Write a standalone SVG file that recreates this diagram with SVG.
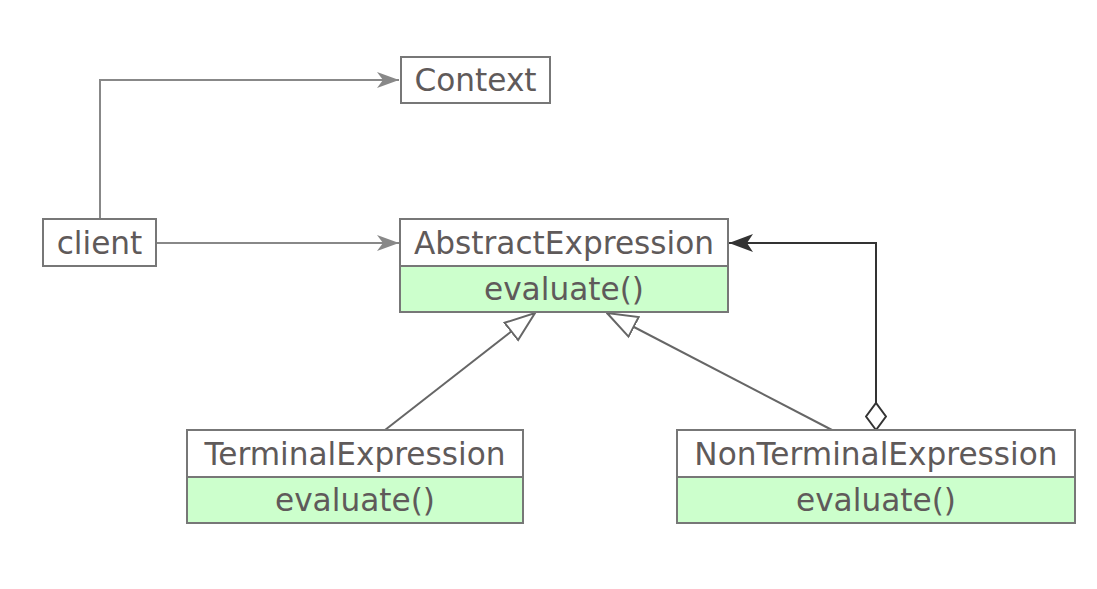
<svg xmlns="http://www.w3.org/2000/svg" width="1097" height="589" viewBox="0 0 1097 589">
<defs>
<style>
.box{fill:#ffffff;stroke:#777777;stroke-width:2}
.ops{fill:#ccffcc;stroke:#777777;stroke-width:2}
text{font-family:"DejaVu Sans","Liberation Sans",sans-serif;font-size:31.2px;fill:#5f5a5a;text-anchor:middle}
.assoc{fill:none;stroke:#888888;stroke-width:2}
.gen{fill:none;stroke:#666666;stroke-width:2}
.agg{fill:none;stroke:#333333;stroke-width:2}
</style>
<marker id="arrGray" viewBox="0 0 22 16" refX="22" refY="8" markerWidth="22" markerHeight="16" markerUnits="userSpaceOnUse" orient="auto">
<path d="M0,0 L22,8 L0,16 L6,8 Z" fill="#888888"/>
</marker>
<marker id="arrDark" viewBox="0 0 24 18" refX="24" refY="9" markerWidth="24" markerHeight="18" markerUnits="userSpaceOnUse" orient="auto">
<path d="M0,0 L24,9 L0,18 L6,9 Z" fill="#333333"/>
</marker>
<marker id="tri" viewBox="-1 -13 32 26" refX="30" refY="0" markerWidth="32" markerHeight="26" markerUnits="userSpaceOnUse" orient="auto">
<path d="M0,-11 L30,0 L0,11 Z" fill="#ffffff" stroke="#666666" stroke-width="2"/>
</marker>
<marker id="diamond" viewBox="-1 -11 30 22" refX="0" refY="0" markerWidth="30" markerHeight="22" markerUnits="userSpaceOnUse" orient="auto">
<path d="M0,0 L13.5,-10 L27,0 L13.5,10 Z" fill="#ffffff" stroke="#333333" stroke-width="2"/>
</marker>
</defs>
<rect width="1097" height="589" fill="#ffffff"/>
<g id="connectors">
<path class="assoc" d="M100,219 V80 H399" marker-end="url(#arrGray)"/>
<path class="assoc" d="M157,243 H399" marker-end="url(#arrGray)"/>
<path class="gen" d="M385,430 L535,313" marker-end="url(#tri)"/>
<path class="gen" d="M832,430 L607,313" marker-end="url(#tri)"/>
<path class="agg" d="M876,430 V243 H729" marker-start="url(#diamond)" marker-end="url(#arrDark)"/>
</g>
<g id="Context">
<rect class="box" x="401" y="57" width="149" height="46"/>
<text x="475.5" y="91">Context</text>
</g>
<g id="client">
<rect class="box" x="43" y="219" width="113" height="47"/>
<text x="99.5" y="254">client</text>
</g>
<g id="AbstractExpression">
<rect class="box" x="400" y="219" width="328" height="47"/>
<rect class="ops" x="400" y="266" width="328" height="46"/>
<text x="564" y="254">AbstractExpression</text>
<text x="564" y="300">evaluate()</text>
</g>
<g id="TerminalExpression">
<rect class="box" x="187" y="430" width="336" height="47"/>
<rect class="ops" x="187" y="477" width="336" height="46"/>
<text x="355" y="465">TerminalExpression</text>
<text x="355" y="511">evaluate()</text>
</g>
<g id="NonTerminalExpression">
<rect class="box" x="677" y="430" width="398" height="47"/>
<rect class="ops" x="677" y="477" width="398" height="46"/>
<text x="876" y="465">NonTerminalExpression</text>
<text x="876" y="511">evaluate()</text>
</g>
</svg>
